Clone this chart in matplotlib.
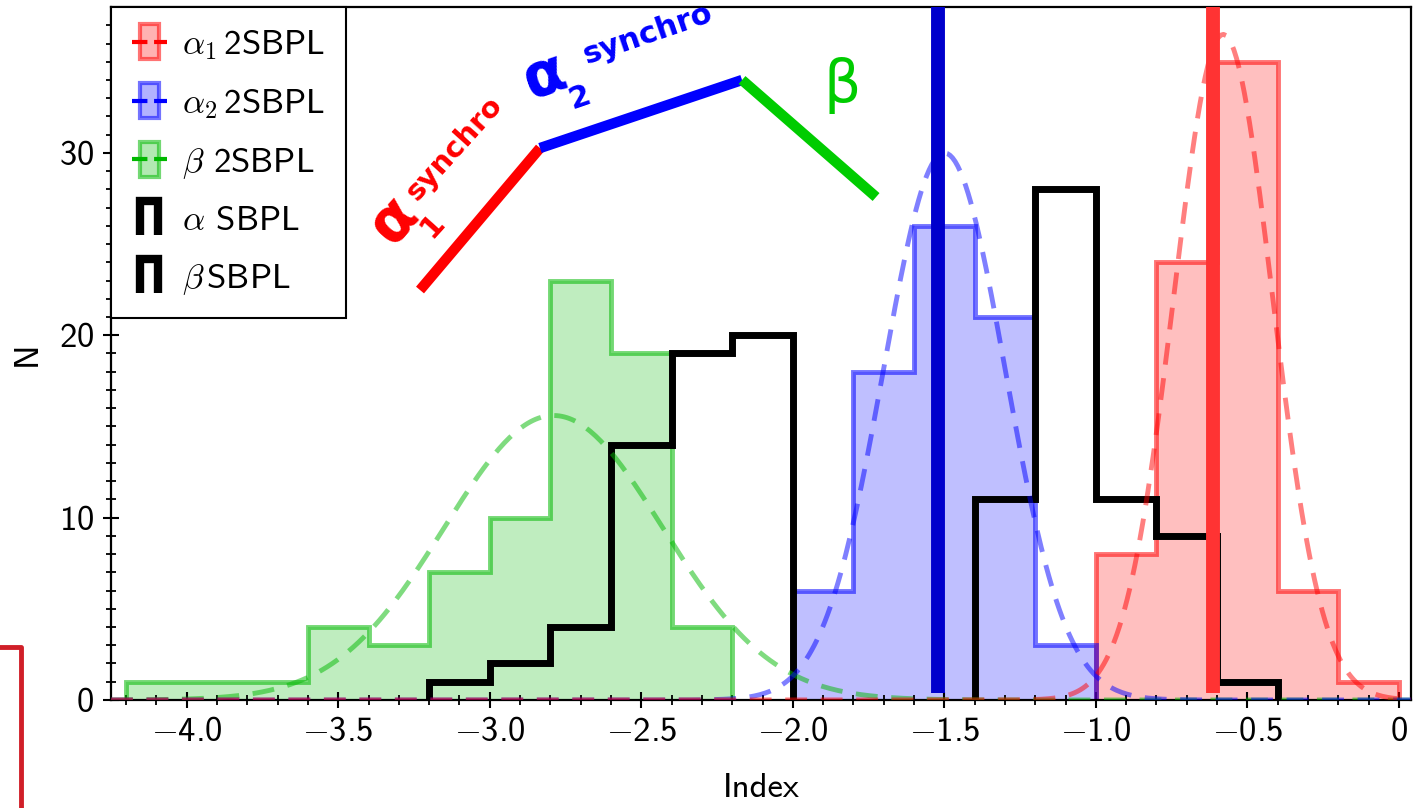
import numpy as np
import matplotlib
matplotlib.use("Agg")
import matplotlib.pyplot as plt
import matplotlib.patches as mpatches
from matplotlib.lines import Line2D
from matplotlib.legend_handler import HandlerPatch

# counts per bin (bin width 0.2)
beta2_edges = [-4.2, -4.0, -3.8, -3.6, -3.4, -3.2, -3.0, -2.8, -2.6, -2.4, -2.2]
beta2_counts = [1, 1, 1, 4, 3, 7, 10, 23, 19, 4]
alpha2_edges = [-2.0, -1.8, -1.6, -1.4, -1.2, -1.0]
alpha2_counts = [6, 18, 26, 21, 3]
alpha1_edges = [-1.0, -0.8, -0.6, -0.4, -0.2, 0.0]
alpha1_counts = [8, 24, 35, 6, 1]
beta_sbpl_edges = [-3.2, -3.0, -2.8, -2.6, -2.4, -2.2, -2.0]
beta_sbpl_counts = [1, 2, 4, 14, 19, 20]
alpha_sbpl_edges = [-1.4, -1.2, -1.0, -0.8, -0.6, -0.4]
alpha_sbpl_counts = [11, 28, 11, 9, 1]

# gaussian fits: amplitude, mean, sigma
alpha1_fit = (36.5, -0.58, 0.163)
alpha2_fit = (30.0, -1.50, 0.20)
beta2_fit = (15.6, -2.79, 0.36)

# synchrotron expected values (thick vertical lines)
alpha1_synchro = -0.615
alpha2_synchro = -1.52

xtick_vals = [-4.0, -3.5, -3.0, -2.5, -2.0, -1.5, -1.0, -0.5, 0.0]
xtick_labels = ["$-$4.0", "$-$3.5", "$-$3.0", "$-$2.5", "$-$2.0",
                "$-$1.5", "$-$1.0", "$-$0.5", "0"]
ytick_vals = [0, 10, 20, 30]

legend_labels = [r"$\alpha_1\,$2SBPL", r"$\alpha_2\,$2SBPL", r"$\beta$ 2SBPL",
                 r"$\alpha$ SBPL", r"$\beta\,$SBPL"]

# sketch of the spectral shape, in axes fraction
sketch_x = [0.2377, 0.330, 0.4854, 0.5885]
sketch_y = [0.5916, 0.7965, 0.8947, 0.7258]

RED = (1.0, 0.0, 0.0)
BLUE = (0.0, 0.0, 1.0)
GREEN = (0.0, 0.72, 0.0)

plt.rcParams["font.family"] = ["cmss10", "DejaVu Sans"]
plt.rcParams["mathtext.fontset"] = "cm"
plt.rcParams["axes.formatter.use_mathtext"] = True
plt.rcParams["font.size"] = 25


def gauss(x, fit):
    amp, mu, sig = fit
    return amp * np.exp(-0.5 * ((x - mu) / sig) ** 2)


def bar_handle(legend, orig_handle, xdescent, ydescent, width, height, fontsize):
    w = 0.55 * width
    h = 1.45 * height
    return mpatches.Rectangle((-xdescent + (width - w) / 2, -ydescent + (height - h) / 2), w, h)


def step_handle(legend, orig_handle, xdescent, ydescent, width, height, fontsize):
    w = 0.5 * width
    h = 1.4 * height
    x0 = -xdescent + (width - w) / 2
    y0 = -ydescent + (height - h) / 2
    return mpatches.Polygon([[x0, y0], [x0, y0 + h], [x0 + w, y0 + h], [x0 + w, y0]],
                            closed=False, fill=False)


def sketch_label(ax, parts, color, rot):
    # parts: (text, x, y, size) in axes fraction
    for txt, x, y, size in parts:
        ax.text(x, y, txt, family="DejaVu Sans", weight="bold", color=color, fontsize=size,
                rotation=rot, rotation_mode="anchor", ha="center", va="center",
                transform=ax.transAxes, zorder=7)


fig = plt.figure(figsize=(14.21, 8.08), dpi=100)
ax = fig.add_axes([0.0781, 0.1337, 0.9149, 0.8576])

hists = [
    (alpha1_edges, alpha1_counts, RED),
    (alpha2_edges, alpha2_counts, BLUE),
    (beta2_edges, beta2_counts, GREEN),
]
for edges, counts, c in hists:
    ax.stairs(counts, edges, fill=True, color=c, alpha=0.25, lw=0, zorder=1)
    ax.stairs(counts, edges, color=c, alpha=0.55, lw=3.5, zorder=2)

ax.stairs(beta_sbpl_counts, beta_sbpl_edges, color="black", lw=5, zorder=3)
ax.stairs(alpha_sbpl_counts, alpha_sbpl_edges, color="black", lw=5, zorder=3)

xx = np.linspace(-4.25, 0.04, 500)
for fit, c in [(beta2_fit, GREEN), (alpha2_fit, BLUE), (alpha1_fit, RED)]:
    ax.plot(xx, gauss(xx, fit), ls="--", dashes=(4.5, 2.8), color=c, alpha=0.5, lw=3.5, zorder=4)

ax.plot([alpha2_synchro, alpha2_synchro], [0.4, 40], color="#0000cc", lw=10,
        solid_capstyle="butt", zorder=6)
ax.plot([alpha1_synchro, alpha1_synchro], [0.4, 40], color="#ff3333", lw=10,
        solid_capstyle="butt", zorder=6)

# spectral shape sketch
for i, c in enumerate(["#ff0000", "#0000ff", "#00cc00"]):
    ax.plot(sketch_x[i:i + 2], sketch_y[i:i + 2], color=c, lw=7.5,
            solid_capstyle="butt", transform=ax.transAxes, zorder=7)
sketch_label(ax, [("α", 0.2175, 0.6930, 44), ("1", 0.2470, 0.6850, 22),
                  ("synchro", 0.2640, 0.7960, 21)], "#ff0000", 48)
sketch_label(ax, [("α", 0.3340, 0.8990, 44), ("2", 0.3610, 0.8700, 22),
                  ("synchro", 0.4130, 0.9610, 22)], "#0000ff", 19)
ax.text(0.5623, 0.887, "β", family="DejaVu Sans", color="#00cc00", fontsize=42,
        ha="center", va="center", transform=ax.transAxes, zorder=7)

ax.set_xlim(-4.25, 0.04)
ax.set_ylim(0, 38)
ax.set_xticks(xtick_vals, labels=xtick_labels)
ax.set_xticks(np.arange(-4.2, 0.01, 0.1), minor=True)
ax.set_yticks(ytick_vals)
ax.set_yticks(np.arange(0, 38, 1), minor=True)
ax.tick_params(which="major", direction="inout", length=12, width=1.5, pad=6)
ax.tick_params(which="minor", direction="inout", length=7, width=1.3)
for s in ax.spines.values():
    s.set_linewidth(1.6)
ax.set_xlabel("Index", labelpad=18)
ax.set_ylabel("N", labelpad=12)

# legend
h_a1 = (mpatches.Rectangle((0, 0), 1, 1, facecolor=RED + (0.3,), edgecolor=RED + (0.55,), lw=3),
        Line2D([], [], color=RED, ls="--", lw=3))
h_a2 = (mpatches.Rectangle((0, 0), 1, 1, facecolor=BLUE + (0.3,), edgecolor=BLUE + (0.55,), lw=3),
        Line2D([], [], color=BLUE, ls="--", lw=3))
h_b2 = (mpatches.Rectangle((0, 0), 1, 1, facecolor=GREEN + (0.3,), edgecolor=GREEN + (0.55,), lw=3),
        Line2D([], [], color=GREEN, ls="--", lw=3))
h_as = mpatches.Polygon([[0, 0], [0, 1], [1, 1]], closed=False, fill=False, edgecolor="black", lw=6)
h_bs = mpatches.Polygon([[0, 0], [0, 1], [1, 1]], closed=False, fill=False, edgecolor="black", lw=6)
leg = ax.legend([h_a1, h_a2, h_b2, h_as, h_bs], legend_labels,
                loc="upper left", bbox_to_anchor=(0, 1), borderaxespad=0,
                handlelength=1.0, handletextpad=0.45, labelspacing=0.72, borderpad=0.6,
                fancybox=False, framealpha=1, edgecolor="black",
                handler_map={mpatches.Rectangle: HandlerPatch(patch_func=bar_handle),
                             mpatches.Polygon: HandlerPatch(patch_func=step_handle)})
leg.get_frame().set_linewidth(1.5)
leg.set_zorder(10)

# red frame fragment at lower left edge
fig.add_artist(Line2D([0, 0.0148, 0.0148], [0.1993, 0.1993, 0.0], color="#d01f28", lw=3.5,
                      transform=fig.transFigure))

fig.savefig("out.png", dpi=100)
